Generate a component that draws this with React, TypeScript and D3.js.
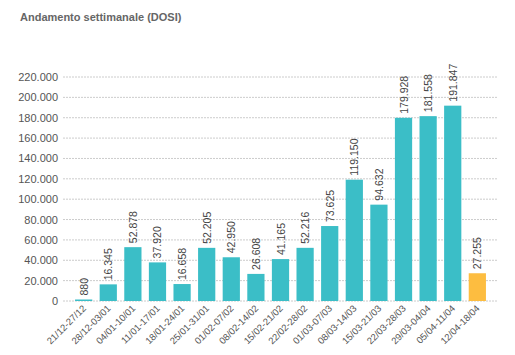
import React from "react";
import * as d3 from "d3";

const categories = ["21/12-27/12","28/12-03/01","04/01-10/01","11/01-17/01","18/01-24/01","25/01-31/01","01/02-07/02","08/02-14/02","15/02-21/02","22/02-28/02","01/03-07/03","08/03-14/03","15/03-21/03","22/03-28/03","29/03-04/04","05/04-11/04","12/04-18/04"];
const values = [880,16345,52878,37920,16658,52205,42950,26608,41165,52216,73625,119150,94632,179928,181558,191847,27255];
const highlighted = [false,false,false,false,false,false,false,false,false,false,false,false,false,false,false,false,true];
const yTicks = [0,20000,40000,60000,80000,100000,120000,140000,160000,180000,200000,220000];

const W = 515, H = 355;
const fmt = (v: number) => d3.format(",")(v).replace(/,/g, ".");

export default function App() {
  const x = d3.scaleBand<string>().domain(categories).range([63, 498]).paddingInner(0.3).paddingOuter(0.49);
  const y = d3.scaleLinear().domain([0, 220000]).range([301, 77]);
  const font = "'Liberation Sans', Arial, sans-serif";
  return (
    <svg width={W} height={H} style={{ position: "absolute", left: 0, top: 0, background: "#fff" }} fontFamily={font}>
      <text x={20} y={21} fontSize={11} fontWeight="bold" fill="#666">Andamento settimanale (DOSI)</text>
      {yTicks.map((t) => (
        <g key={t}>
          <line x1={63} x2={498} y1={y(t)} y2={y(t)} stroke="#ccc" strokeDasharray="2,1" strokeWidth={1} />
          <text x={58} y={y(t) + 4} textAnchor="end" fontSize={11} fill="#555">{fmt(t)}</text>
        </g>
      ))}
      {categories.map((c, i) => {
        const x0 = x(c)!;
        const bw = x.bandwidth();
        const yv = y(values[i]);
        const h = Math.max(301 - yv, 1.5);
        const cx = x0 + bw / 2;
        return (
          <g key={c}>
            <rect x={x0} y={301 - h} width={bw} height={h} fill={highlighted[i] ? "#fdbd40" : "#3bbec7"} />
            <text transform={`translate(${cx + 4},${301 - h - 4}) rotate(-90)`} fontSize={10.5} fill="#444">{fmt(values[i])}</text>
            <text transform={`translate(${cx + 3},${309}) rotate(-45)`} textAnchor="end" fontSize={9.5} fill="#555">{c}</text>
          </g>
        );
      })}
    </svg>
  );
}
